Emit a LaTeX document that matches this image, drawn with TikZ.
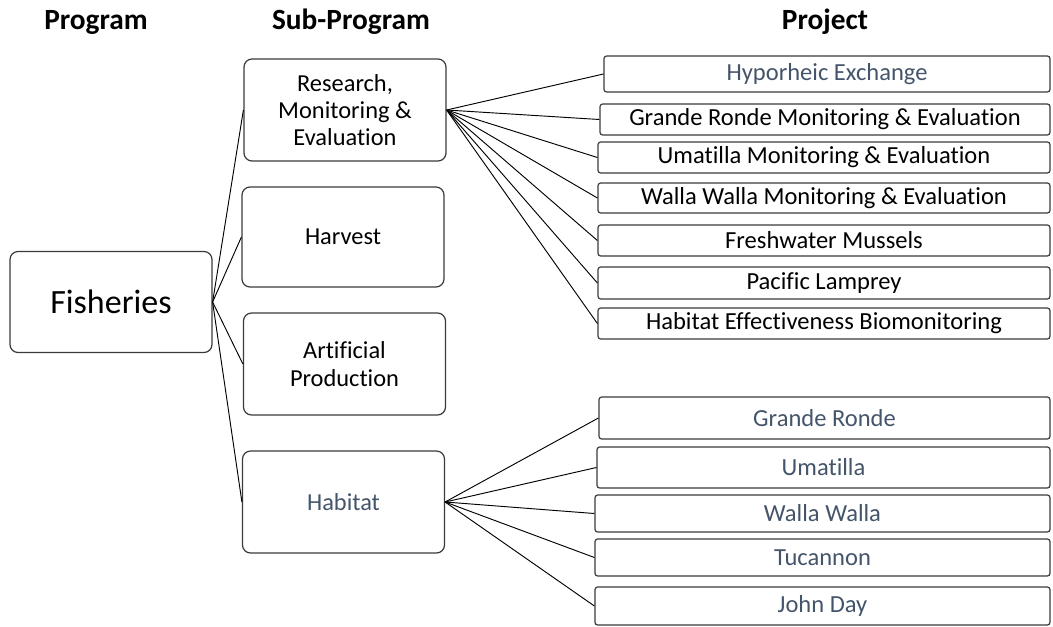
\documentclass[tikz,border=0pt]{standalone}
\usepackage{fontspec}
\setmainfont{Carlito}[Ligatures={NoCommon}]
\usetikzlibrary{calc}

\definecolor{slate}{HTML}{44546A}
\definecolor{edge}{HTML}{3A3A3A}

\begin{document}
\begin{tikzpicture}[x=0.75pt,y=-0.75pt,
  head/.style={font=\fontsize{22}{24}\selectfont\bfseries},
  prog/.style={draw=edge,line width=0.9pt,rounded corners=6pt,inner sep=0pt,
    minimum width=151.5pt,minimum height=75.75pt,font=\fontsize{25.5}{28}\selectfont},
  sub/.style={draw=edge,line width=0.9pt,rounded corners=6pt,inner sep=0pt,
    minimum width=151.5pt,minimum height=76.5pt,align=center,
    font=\fontsize{18.3}{20.5}\selectfont},
  proj/.style={draw=edge,line width=0.9pt,rounded corners=2pt,inner sep=0pt,
    minimum width=339pt,font=\fontsize{18.4}{21}\selectfont},
  link/.style={line width=0.7pt}]
  \useasboundingbox (0,0) rectangle (1053,626);

  % column heads
  \node[head] (hprog) at (96,22) {Program};
  \node[head] (hsub) at (351,22) {Sub-Program};
  \node[head] (hproj) at (825,22) {Project};

  % program
  \node[prog] (fisheries) at (111,302) {Fisheries};

  % sub-programs
  \node[sub] (rme) at (345,110) {Research,\\Monitoring \&\\Evaluation};
  \node[sub,minimum height=75pt] (harvest) at (343,237) {Harvest};
  \node[sub] (artprod) at (344.5,364) {Artificial\\Production};
  \node[sub,text=slate] (habitat) at (343.5,502) {Habitat};

  % projects under research, monitoring & evaluation
  \node[proj,minimum height=27pt,text=slate,minimum width=334.5pt] (hypo) at (827,74) {Hyporheic Exchange};
  \node[proj,minimum height=23.25pt,minimum width=337.5pt] (grme) at (825,119.5) {Grande Ronde Monitoring \& Evaluation};
  \node[proj,minimum height=23.25pt] (umme) at (824,157.5) {Umatilla Monitoring \& Evaluation};
  \node[proj,minimum height=22.5pt] (wwme) at (824,198) {Walla Walla Monitoring \& Evaluation};
  \node[proj,minimum height=23.25pt] (mussels) at (824,240.5) {Freshwater Mussels};
  \node[proj,minimum height=24pt] (lamprey) at (824,283) {Pacific Lamprey};
  \node[proj,minimum height=23.25pt] (hebm) at (824,323.5) {Habitat Effectiveness Biomonitoring};

  % projects under habitat
  \node[proj,minimum height=31.5pt,text=slate,minimum width=338.25pt] (gronde) at (824.5,418) {Grande Ronde};
  \node[proj,minimum height=30.75pt,text=slate,minimum width=339.75pt] (umatilla) at (823.5,467.5) {Umatilla};
  \node[proj,minimum height=27.75pt,text=slate,minimum width=341.25pt] (walla) at (822.5,513.5) {Walla Walla};
  \node[proj,minimum height=27.75pt,text=slate,minimum width=341.25pt] (tucannon) at (822.5,557.5) {Tucannon};
  \node[proj,minimum height=28.5pt,text=slate,minimum width=341.25pt] (johnday) at (822.5,606) {John Day};

  % connectors
  \foreach \s in {rme,harvest,artprod,habitat}
    \draw[link] (fisheries.east) -- (\s.west);
  \foreach \p in {hypo,grme,umme,wwme,mussels,lamprey,hebm}
    \draw[link] (rme.east) -- (\p.west);
  \foreach \p in {gronde,umatilla,walla,tucannon,johnday}
    \draw[link] (habitat.east) -- (\p.west);

\end{tikzpicture}
\end{document}
